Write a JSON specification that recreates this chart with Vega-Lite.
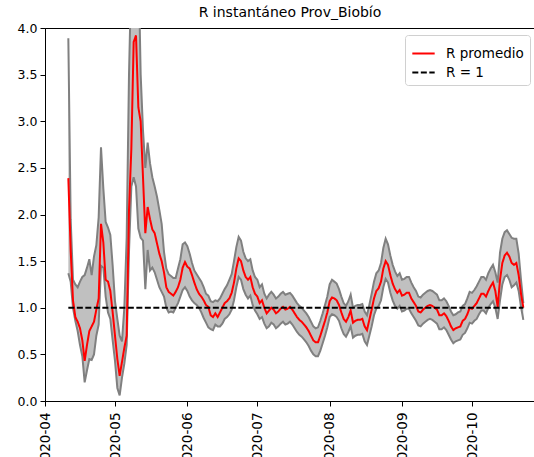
{
  "$schema": "https://vega.github.io/schema/vega-lite/v6.json",
  "autosize": {"type": "none"},
  "padding": {"left": 45, "top": 28, "right": 0, "bottom": 56},
  "width": 490,
  "height": 373,
  "background": "white",
  "view": {"stroke": "black", "strokeWidth": 1},
  "title": {"text": "R instantáneo Prov_Biobío", "font": "DejaVu Sans", "fontSize": 14, "fontWeight": "normal", "color": "black", "offset": 2, "anchor": "middle"},
  "datasets": {
    "band": [
      {"date": "2020-04-11", "m": 2.39, "lo": 1.37, "up": 3.89},
      {"date": "2020-04-12", "m": 1.62, "lo": 1.28, "up": 1.95},
      {"date": "2020-04-13", "m": 1.08, "lo": 1.0, "up": 1.3},
      {"date": "2020-04-14", "m": 0.9, "lo": 0.86, "up": 1.25},
      {"date": "2020-04-15", "m": 0.85, "lo": 0.75, "up": 1.22},
      {"date": "2020-04-16", "m": 0.78, "lo": 0.6, "up": 1.28},
      {"date": "2020-04-17", "m": 0.65, "lo": 0.48, "up": 1.33},
      {"date": "2020-04-18", "m": 0.43, "lo": 0.2, "up": 1.35},
      {"date": "2020-04-19", "m": 0.6, "lo": 0.33, "up": 1.43},
      {"date": "2020-04-20", "m": 0.75, "lo": 0.45, "up": 1.52},
      {"date": "2020-04-21", "m": 0.8, "lo": 0.44, "up": 1.35},
      {"date": "2020-04-22", "m": 0.85, "lo": 0.5, "up": 1.55},
      {"date": "2020-04-23", "m": 0.98, "lo": 0.7, "up": 1.67},
      {"date": "2020-04-24", "m": 1.1, "lo": 0.82, "up": 1.97},
      {"date": "2020-04-25", "m": 1.9, "lo": 1.45, "up": 2.72},
      {"date": "2020-04-26", "m": 1.7, "lo": 1.43, "up": 2.28},
      {"date": "2020-04-27", "m": 1.3, "lo": 1.12, "up": 1.92},
      {"date": "2020-04-28", "m": 1.28, "lo": 0.95, "up": 1.86},
      {"date": "2020-04-29", "m": 1.18, "lo": 0.88, "up": 1.78},
      {"date": "2020-04-30", "m": 0.95, "lo": 0.65, "up": 1.45},
      {"date": "2020-05-01", "m": 0.7, "lo": 0.43, "up": 1.07},
      {"date": "2020-05-02", "m": 0.45, "lo": 0.14, "up": 0.88},
      {"date": "2020-05-03", "m": 0.27, "lo": 0.06, "up": 0.7},
      {"date": "2020-05-04", "m": 0.42, "lo": 0.25, "up": 0.64},
      {"date": "2020-05-05", "m": 0.57, "lo": 0.4, "up": 1.0},
      {"date": "2020-05-06", "m": 0.7, "lo": 0.6, "up": 1.75},
      {"date": "2020-05-07", "m": 2.05, "lo": 1.6, "up": 3.5},
      {"date": "2020-05-08", "m": 2.7, "lo": 2.3, "up": 4.6},
      {"date": "2020-05-09", "m": 3.85, "lo": 2.4, "up": 5.5},
      {"date": "2020-05-10", "m": 3.92, "lo": 2.3, "up": 5.8},
      {"date": "2020-05-11", "m": 3.15, "lo": 1.85, "up": 4.8},
      {"date": "2020-05-12", "m": 3.0, "lo": 1.75, "up": 3.5},
      {"date": "2020-05-13", "m": 2.4, "lo": 1.72, "up": 2.9},
      {"date": "2020-05-14", "m": 1.8, "lo": 1.2, "up": 2.5},
      {"date": "2020-05-15", "m": 2.08, "lo": 1.62, "up": 2.77},
      {"date": "2020-05-16", "m": 1.95, "lo": 1.4, "up": 2.55},
      {"date": "2020-05-17", "m": 1.84, "lo": 1.43, "up": 2.4},
      {"date": "2020-05-18", "m": 1.8, "lo": 1.38, "up": 2.3},
      {"date": "2020-05-19", "m": 1.69, "lo": 1.3, "up": 2.19},
      {"date": "2020-05-20", "m": 1.58, "lo": 1.22, "up": 2.05},
      {"date": "2020-05-21", "m": 1.5, "lo": 1.17, "up": 1.9},
      {"date": "2020-05-22", "m": 1.38, "lo": 1.12, "up": 1.6},
      {"date": "2020-05-23", "m": 1.22, "lo": 1.0, "up": 1.42},
      {"date": "2020-05-24", "m": 1.17, "lo": 0.95, "up": 1.36},
      {"date": "2020-05-25", "m": 1.15, "lo": 0.96, "up": 1.34},
      {"date": "2020-05-26", "m": 1.13, "lo": 0.95, "up": 1.32},
      {"date": "2020-05-27", "m": 1.17, "lo": 1.0, "up": 1.32},
      {"date": "2020-05-28", "m": 1.22, "lo": 1.05, "up": 1.42},
      {"date": "2020-05-29", "m": 1.3, "lo": 1.12, "up": 1.52},
      {"date": "2020-05-30", "m": 1.43, "lo": 1.19, "up": 1.68},
      {"date": "2020-05-31", "m": 1.49, "lo": 1.22, "up": 1.7},
      {"date": "2020-06-01", "m": 1.44, "lo": 1.18, "up": 1.66},
      {"date": "2020-06-02", "m": 1.42, "lo": 1.12, "up": 1.58},
      {"date": "2020-06-03", "m": 1.35, "lo": 1.08, "up": 1.48},
      {"date": "2020-06-04", "m": 1.27, "lo": 1.05, "up": 1.4},
      {"date": "2020-06-05", "m": 1.2, "lo": 1.03, "up": 1.36},
      {"date": "2020-06-06", "m": 1.15, "lo": 1.0, "up": 1.32},
      {"date": "2020-06-07", "m": 1.12, "lo": 0.95, "up": 1.28},
      {"date": "2020-06-08", "m": 1.08, "lo": 0.89, "up": 1.22},
      {"date": "2020-06-09", "m": 1.03, "lo": 0.84, "up": 1.15},
      {"date": "2020-06-10", "m": 1.01, "lo": 0.79, "up": 1.13},
      {"date": "2020-06-11", "m": 0.92, "lo": 0.77, "up": 1.07},
      {"date": "2020-06-12", "m": 0.9, "lo": 0.76, "up": 1.06},
      {"date": "2020-06-13", "m": 0.94, "lo": 0.82, "up": 1.08},
      {"date": "2020-06-14", "m": 0.9, "lo": 0.8, "up": 1.07},
      {"date": "2020-06-15", "m": 0.95, "lo": 0.8, "up": 1.1},
      {"date": "2020-06-16", "m": 1.0, "lo": 0.83, "up": 1.15},
      {"date": "2020-06-17", "m": 1.05, "lo": 0.88, "up": 1.2},
      {"date": "2020-06-18", "m": 1.07, "lo": 0.9, "up": 1.24},
      {"date": "2020-06-19", "m": 1.1, "lo": 0.93, "up": 1.3},
      {"date": "2020-06-20", "m": 1.16, "lo": 0.98, "up": 1.36},
      {"date": "2020-06-21", "m": 1.27, "lo": 1.08, "up": 1.5},
      {"date": "2020-06-22", "m": 1.42, "lo": 1.22, "up": 1.65},
      {"date": "2020-06-23", "m": 1.53, "lo": 1.33, "up": 1.76},
      {"date": "2020-06-24", "m": 1.5, "lo": 1.3, "up": 1.72},
      {"date": "2020-06-25", "m": 1.4, "lo": 1.2, "up": 1.6},
      {"date": "2020-06-26", "m": 1.33, "lo": 1.14, "up": 1.53},
      {"date": "2020-06-27", "m": 1.3, "lo": 1.1, "up": 1.5},
      {"date": "2020-06-28", "m": 1.33, "lo": 1.13, "up": 1.52},
      {"date": "2020-06-29", "m": 1.22, "lo": 1.03, "up": 1.4},
      {"date": "2020-06-30", "m": 1.15, "lo": 0.97, "up": 1.33},
      {"date": "2020-07-01", "m": 1.12, "lo": 0.93, "up": 1.3},
      {"date": "2020-07-02", "m": 1.05, "lo": 0.88, "up": 1.22},
      {"date": "2020-07-03", "m": 1.08, "lo": 0.9, "up": 1.25},
      {"date": "2020-07-04", "m": 1.0, "lo": 0.83, "up": 1.15},
      {"date": "2020-07-05", "m": 0.94, "lo": 0.78, "up": 1.1},
      {"date": "2020-07-06", "m": 0.97, "lo": 0.8, "up": 1.14},
      {"date": "2020-07-07", "m": 1.0, "lo": 0.84, "up": 1.17},
      {"date": "2020-07-08", "m": 0.98, "lo": 0.82, "up": 1.14},
      {"date": "2020-07-09", "m": 0.94, "lo": 0.78, "up": 1.1},
      {"date": "2020-07-10", "m": 0.96, "lo": 0.8, "up": 1.12},
      {"date": "2020-07-11", "m": 0.99, "lo": 0.83, "up": 1.15},
      {"date": "2020-07-12", "m": 1.01, "lo": 0.85, "up": 1.17},
      {"date": "2020-07-13", "m": 0.98, "lo": 0.82, "up": 1.14},
      {"date": "2020-07-14", "m": 0.99, "lo": 0.83, "up": 1.15},
      {"date": "2020-07-15", "m": 1.01, "lo": 0.85, "up": 1.16},
      {"date": "2020-07-16", "m": 0.98, "lo": 0.82, "up": 1.13},
      {"date": "2020-07-17", "m": 0.94, "lo": 0.78, "up": 1.09},
      {"date": "2020-07-18", "m": 0.9, "lo": 0.74, "up": 1.05},
      {"date": "2020-07-19", "m": 0.87, "lo": 0.71, "up": 1.02},
      {"date": "2020-07-20", "m": 0.85, "lo": 0.69, "up": 1.0},
      {"date": "2020-07-21", "m": 0.82, "lo": 0.66, "up": 0.97},
      {"date": "2020-07-22", "m": 0.79, "lo": 0.63, "up": 0.94},
      {"date": "2020-07-23", "m": 0.75, "lo": 0.59, "up": 0.9},
      {"date": "2020-07-24", "m": 0.7, "lo": 0.54, "up": 0.85},
      {"date": "2020-07-25", "m": 0.65, "lo": 0.5, "up": 0.8},
      {"date": "2020-07-26", "m": 0.63, "lo": 0.48, "up": 0.78},
      {"date": "2020-07-27", "m": 0.63, "lo": 0.48, "up": 0.79},
      {"date": "2020-07-28", "m": 0.7, "lo": 0.54, "up": 0.86},
      {"date": "2020-07-29", "m": 0.78, "lo": 0.62, "up": 0.94},
      {"date": "2020-07-30", "m": 0.86, "lo": 0.7, "up": 1.03},
      {"date": "2020-07-31", "m": 0.95, "lo": 0.79, "up": 1.12},
      {"date": "2020-08-01", "m": 1.07, "lo": 0.9, "up": 1.25},
      {"date": "2020-08-02", "m": 1.11, "lo": 0.93, "up": 1.3},
      {"date": "2020-08-03", "m": 1.1, "lo": 0.92, "up": 1.28},
      {"date": "2020-08-04", "m": 1.08, "lo": 0.9, "up": 1.26},
      {"date": "2020-08-05", "m": 1.03, "lo": 0.86, "up": 1.2},
      {"date": "2020-08-06", "m": 0.95, "lo": 0.78, "up": 1.12},
      {"date": "2020-08-07", "m": 0.88, "lo": 0.72, "up": 1.05},
      {"date": "2020-08-08", "m": 0.85, "lo": 0.69, "up": 1.02},
      {"date": "2020-08-09", "m": 0.9, "lo": 0.74, "up": 1.07},
      {"date": "2020-08-10", "m": 0.97, "lo": 0.8, "up": 1.14},
      {"date": "2020-08-11", "m": 0.84, "lo": 0.68, "up": 1.0},
      {"date": "2020-08-12", "m": 0.86, "lo": 0.7, "up": 1.02},
      {"date": "2020-08-13", "m": 0.87, "lo": 0.71, "up": 1.03},
      {"date": "2020-08-14", "m": 0.87, "lo": 0.71, "up": 1.03},
      {"date": "2020-08-15", "m": 0.88, "lo": 0.72, "up": 1.04},
      {"date": "2020-08-16", "m": 0.8, "lo": 0.64, "up": 0.96},
      {"date": "2020-08-17", "m": 0.76, "lo": 0.6, "up": 0.92},
      {"date": "2020-08-18", "m": 0.87, "lo": 0.7, "up": 1.03},
      {"date": "2020-08-19", "m": 0.98, "lo": 0.8, "up": 1.15},
      {"date": "2020-08-20", "m": 1.1, "lo": 0.92, "up": 1.28},
      {"date": "2020-08-21", "m": 1.18, "lo": 0.99, "up": 1.37},
      {"date": "2020-08-22", "m": 1.21, "lo": 1.02, "up": 1.4},
      {"date": "2020-08-23", "m": 1.28, "lo": 1.08, "up": 1.48},
      {"date": "2020-08-24", "m": 1.42, "lo": 1.22, "up": 1.64},
      {"date": "2020-08-25", "m": 1.5, "lo": 1.31, "up": 1.74},
      {"date": "2020-08-26", "m": 1.46, "lo": 1.27, "up": 1.68},
      {"date": "2020-08-27", "m": 1.35, "lo": 1.16, "up": 1.56},
      {"date": "2020-08-28", "m": 1.26, "lo": 1.08, "up": 1.46},
      {"date": "2020-08-29", "m": 1.2, "lo": 1.02, "up": 1.39},
      {"date": "2020-08-30", "m": 1.16, "lo": 0.99, "up": 1.34},
      {"date": "2020-08-31", "m": 1.19, "lo": 1.02, "up": 1.37},
      {"date": "2020-09-01", "m": 1.13, "lo": 0.96, "up": 1.3},
      {"date": "2020-09-02", "m": 1.14, "lo": 0.97, "up": 1.31},
      {"date": "2020-09-03", "m": 1.16, "lo": 0.99, "up": 1.33},
      {"date": "2020-09-04", "m": 1.16, "lo": 0.99, "up": 1.33},
      {"date": "2020-09-05", "m": 1.1, "lo": 0.94, "up": 1.27},
      {"date": "2020-09-06", "m": 1.06, "lo": 0.9, "up": 1.22},
      {"date": "2020-09-07", "m": 1.02, "lo": 0.86, "up": 1.18},
      {"date": "2020-09-08", "m": 0.96, "lo": 0.81, "up": 1.12},
      {"date": "2020-09-09", "m": 0.95, "lo": 0.8, "up": 1.11},
      {"date": "2020-09-10", "m": 0.98, "lo": 0.83, "up": 1.14},
      {"date": "2020-09-11", "m": 1.0, "lo": 0.85, "up": 1.16},
      {"date": "2020-09-12", "m": 1.02, "lo": 0.87, "up": 1.18},
      {"date": "2020-09-13", "m": 1.03, "lo": 0.88, "up": 1.19},
      {"date": "2020-09-14", "m": 1.02, "lo": 0.87, "up": 1.18},
      {"date": "2020-09-15", "m": 1.0, "lo": 0.85, "up": 1.16},
      {"date": "2020-09-16", "m": 0.98, "lo": 0.83, "up": 1.14},
      {"date": "2020-09-17", "m": 0.92, "lo": 0.77, "up": 1.08},
      {"date": "2020-09-18", "m": 0.92, "lo": 0.77, "up": 1.08},
      {"date": "2020-09-19", "m": 0.94, "lo": 0.79, "up": 1.1},
      {"date": "2020-09-20", "m": 0.91, "lo": 0.76, "up": 1.07},
      {"date": "2020-09-21", "m": 0.86, "lo": 0.71, "up": 1.02},
      {"date": "2020-09-22", "m": 0.8, "lo": 0.66, "up": 0.96},
      {"date": "2020-09-23", "m": 0.76, "lo": 0.62, "up": 0.92},
      {"date": "2020-09-24", "m": 0.78, "lo": 0.64, "up": 0.93},
      {"date": "2020-09-25", "m": 0.79, "lo": 0.65, "up": 0.95},
      {"date": "2020-09-26", "m": 0.8, "lo": 0.66, "up": 0.96},
      {"date": "2020-09-27", "m": 0.86, "lo": 0.71, "up": 1.02},
      {"date": "2020-09-28", "m": 0.88, "lo": 0.73, "up": 1.04},
      {"date": "2020-09-29", "m": 0.93, "lo": 0.78, "up": 1.1},
      {"date": "2020-09-30", "m": 1.0, "lo": 0.84, "up": 1.17},
      {"date": "2020-10-01", "m": 0.99, "lo": 0.83, "up": 1.16},
      {"date": "2020-10-02", "m": 1.02, "lo": 0.86, "up": 1.19},
      {"date": "2020-10-03", "m": 1.05, "lo": 0.88, "up": 1.23},
      {"date": "2020-10-04", "m": 1.1, "lo": 0.93, "up": 1.28},
      {"date": "2020-10-05", "m": 1.15, "lo": 0.97, "up": 1.33},
      {"date": "2020-10-06", "m": 1.15, "lo": 0.97, "up": 1.33},
      {"date": "2020-10-07", "m": 1.12, "lo": 0.94, "up": 1.3},
      {"date": "2020-10-08", "m": 1.18, "lo": 1.0, "up": 1.37},
      {"date": "2020-10-09", "m": 1.23, "lo": 1.04, "up": 1.42},
      {"date": "2020-10-10", "m": 1.27, "lo": 1.07, "up": 1.46},
      {"date": "2020-10-11", "m": 1.18, "lo": 1.0, "up": 1.38},
      {"date": "2020-10-12", "m": 1.01, "lo": 0.88, "up": 1.27},
      {"date": "2020-10-13", "m": 1.3, "lo": 1.08, "up": 1.59},
      {"date": "2020-10-14", "m": 1.48, "lo": 1.25, "up": 1.74},
      {"date": "2020-10-15", "m": 1.56, "lo": 1.33, "up": 1.81},
      {"date": "2020-10-16", "m": 1.59, "lo": 1.35, "up": 1.83},
      {"date": "2020-10-17", "m": 1.55, "lo": 1.3, "up": 1.79},
      {"date": "2020-10-18", "m": 1.48, "lo": 1.22, "up": 1.75},
      {"date": "2020-10-19", "m": 1.46, "lo": 1.24, "up": 1.74},
      {"date": "2020-10-20", "m": 1.48, "lo": 1.27, "up": 1.74},
      {"date": "2020-10-21", "m": 1.35, "lo": 1.18, "up": 1.58},
      {"date": "2020-10-22", "m": 1.15, "lo": 1.01, "up": 1.3},
      {"date": "2020-10-23", "m": 1.0, "lo": 0.87, "up": 1.05}
    ],
    "ref": [
      {"date": "2020-04-11", "r": 1},
      {"date": "2020-10-23", "r": 1}
    ]
  },
  "encoding": {
    "x": {
      "field": "date", "type": "temporal",
      "scale": {"type": "utc", "domain": [{"year": 2020, "month": 4, "date": 1, "utc": true}, {"year": 2020, "month": 10, "date": 28, "utc": true}]},
      "axis": {
        "values": [
          {"year": 2020, "month": 4, "date": 1, "utc": true},
          {"year": 2020, "month": 5, "date": 1, "utc": true},
          {"year": 2020, "month": 6, "date": 1, "utc": true},
          {"year": 2020, "month": 7, "date": 1, "utc": true},
          {"year": 2020, "month": 8, "date": 1, "utc": true},
          {"year": 2020, "month": 9, "date": 1, "utc": true},
          {"year": 2020, "month": 10, "date": 1, "utc": true}
        ],
        "labelExpr": "utcFormat(datum.value, '%Y-%m')",
        "labelFontSize": 13.5,
        "labelAngle": 270, "labelAlign": "right", "labelBaseline": "middle", "labelPadding": 6, "labelOverlap": false, "labelFlush": false
      }
    }
  },
  "layer": [
    {
      "data": {"name": "band"},
      "mark": {"type": "area", "color": "#c0c0c0", "opacity": 1, "clip": true},
      "encoding": {
        "y": {"field": "lo", "type": "quantitative", "scale": {"domain": [0, 4], "nice": false, "zero": false}, "axis": {"values": [0, 0.5, 1, 1.5, 2, 2.5, 3, 3.5, 4], "format": ".1f", "labelPadding": 3}},
        "y2": {"field": "up"}
      }
    },
    {
      "data": {"name": "band"},
      "mark": {"type": "line", "color": "#808080", "strokeWidth": 2, "clip": true},
      "encoding": {"y": {"field": "lo", "type": "quantitative"}}
    },
    {
      "data": {"name": "band"},
      "mark": {"type": "line", "color": "#808080", "strokeWidth": 2, "clip": true},
      "encoding": {"y": {"field": "up", "type": "quantitative"}}
    },
    {
      "data": {"name": "band"},
      "mark": {"type": "line", "strokeWidth": 2, "clip": true},
      "encoding": {
        "y": {"field": "m", "type": "quantitative"},
        "color": {"datum": "R promedio"},
        "strokeDash": {"datum": "R promedio"}
      }
    },
    {
      "data": {"name": "ref"},
      "mark": {"type": "line", "strokeWidth": 2, "clip": true},
      "encoding": {
        "y": {"field": "r", "type": "quantitative"},
        "color": {"datum": "R = 1", "scale": {"domain": ["R promedio", "R = 1"], "range": ["#ff0000", "#000000"]}, "legend": {"title": null}},
        "strokeDash": {"datum": "R = 1", "scale": {"domain": ["R promedio", "R = 1"], "range": [[1, 0], [6, 2.5]]}, "legend": {"title": null}}
      }
    }
  ],
  "resolve": {"scale": {"y": "shared"}},
  "config": {
    "font": "DejaVu Sans",
    "axis": {"domainColor": "black", "tickColor": "black", "labelColor": "black", "labelFont": "DejaVu Sans", "labelFontSize": 12.5, "tickSize": 5, "grid": false, "title": null},
    "legend": {
      "orient": "none", "legendX": 360, "legendY": 7,
      "fillColor": "white", "strokeColor": "#d0d0d0", "cornerRadius": 3, "padding": 6,
      "symbolType": "stroke", "symbolSize": 500, "symbolStrokeWidth": 2,
      "labelFont": "DejaVu Sans", "labelFontSize": 13.5, "labelColor": "black", "labelOffset": 10, "rowPadding": 0
    }
  }
}
